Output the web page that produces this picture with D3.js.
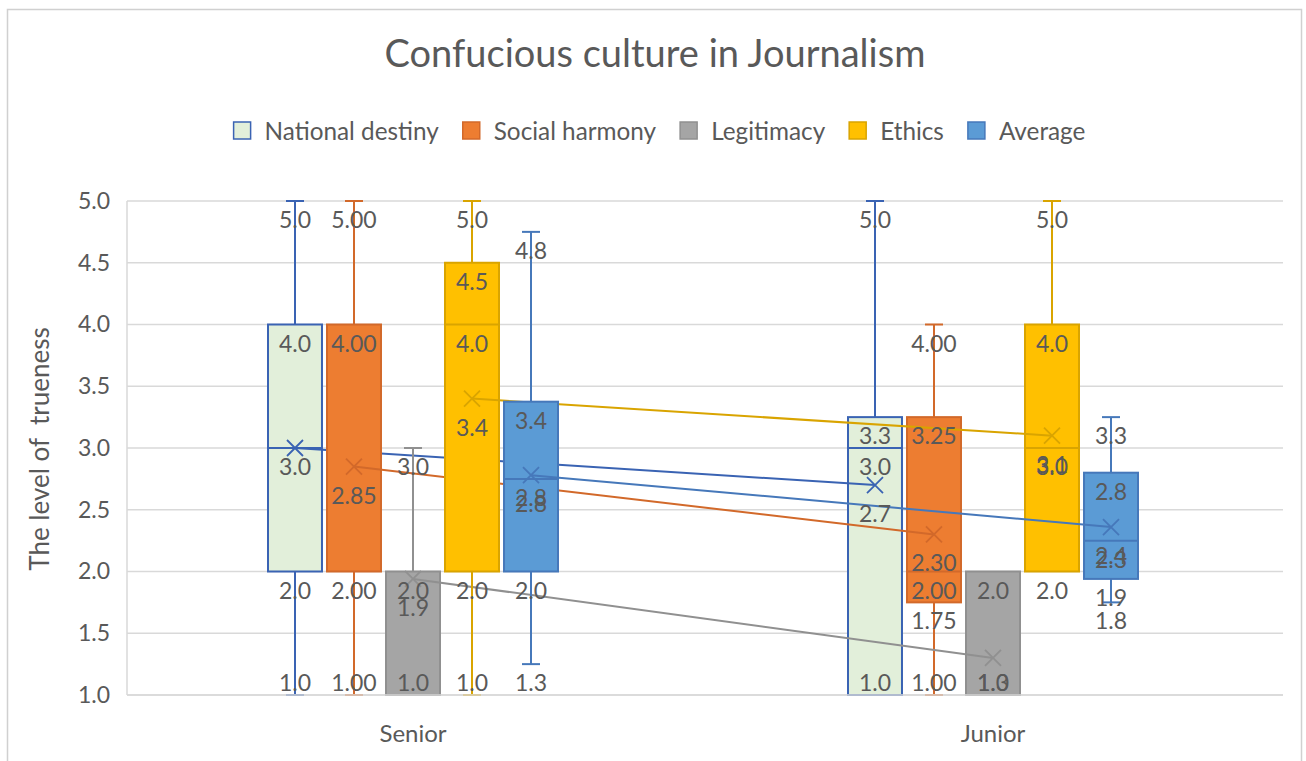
<!DOCTYPE html>
<html>
<head>
<meta charset="utf-8">
<script src="https://cdn.jsdelivr.net/npm/d3@7"></script>
<style>
  html, body { margin: 0; padding: 0; background: #fff; }
  svg { display: block; font-family: Lato, "Open Sans", sans-serif; }
</style>
</head>
<body>
<svg id="chart" width="1306" height="761"></svg>
<script>
// ---- data ----
const categories = ["Senior", "Junior"];
const seriesNames = ["National destiny", "Social harmony", "Legitimacy", "Ethics", "Average"];
const labelDecimals = [1, 2, 1, 1, 1];
// each row: [Senior, Junior]
const minValues    = [[1.0, 1.0], [1.0, 1.0],  [1.0, 1.0], [1.0, 2.0], [1.25, 1.75]];
const q1Values     = [[2.0, 1.0], [2.0, 1.75], [1.0, 1.0], [2.0, 2.0], [2.0, 1.94]];
const medianValues = [[3.0, 3.0], [4.0, 2.0],  [2.0, 1.0], [4.0, 3.0], [2.75, 2.25]];
const q3Values     = [[4.0, 3.25], [4.0, 3.25], [2.0, 2.0], [4.5, 4.0], [3.375, 2.8]];
const maxValues    = [[5.0, 5.0], [5.0, 4.0],  [3.0, 2.0], [5.0, 5.0], [4.75, 3.25]];
const meanValues   = [[3.0, 2.7], [2.85, 2.30], [1.94, 1.3], [3.4, 3.1], [2.78, 2.36]];
const yTicks = [1.0, 1.5, 2.0, 2.5, 3.0, 3.5, 4.0, 4.5, 5.0];

const chartTitle = "Confucious culture in Journalism";
const yAxisTitle = "The level of  trueness";

// ---- styling ----
const fills   = ["#E2EFDA", "#ED7D31", "#A5A5A5", "#FFC000", "#5B9BD5"];
const strokes = ["#3A63B3", "#D2692A", "#909090", "#D9A400", "#4678BA"];
const textColor = "#595959";
const gridColor = "#D9D9D9";

const svg = d3.select("#chart");
const plot = { left: 127, right: 1283, top: 201, bottom: 695 };

// outer chart frame
svg.append("rect")
  .attr("x", 7.5).attr("y", 9.5).attr("width", 1294).attr("height", 770)
  .attr("fill", "#fff").attr("stroke", "#D0D0D0").attr("stroke-width", 1.5);

// scales
const y = d3.scaleLinear().domain([1, 5]).range([plot.bottom, plot.top]);
const x0 = d3.scaleBand().domain(categories).range([plot.left - 4, plot.right])
  .paddingInner(0.5).paddingOuter(0.25);
const x1 = d3.scaleBand().domain(seriesNames).range([0, x0.bandwidth()])
  .paddingInner(0.085).paddingOuter(0);

// title
svg.append("text")
  .attr("x", 655).attr("y", 67).attr("text-anchor", "middle")
  .attr("font-size", 38).attr("fill", textColor).text(chartTitle);

// legend
const legend = svg.append("g");
let lx = 0;
seriesNames.forEach((name, i) => {
  const g = legend.append("g").attr("transform", `translate(${lx},0)`);
  g.append("rect").attr("x", 1).attr("y", 122).attr("width", 17).attr("height", 17)
    .attr("fill", fills[i]).attr("stroke", strokes[i]).attr("stroke-width", 1.5);
  const t = g.append("text").attr("x", 32).attr("y", 139.5)
    .attr("font-size", 24.3).attr("fill", textColor).text(name);
  lx += 32 + t.node().getComputedTextLength() + 23;
});
const legendWidth = lx - 23;
legend.attr("transform", `translate(${659 - legendWidth / 2},0)`);

// gridlines
svg.append("g").selectAll("line").data(yTicks).join("line")
  .attr("x1", plot.left).attr("x2", plot.right)
  .attr("y1", d => y(d)).attr("y2", d => y(d))
  .attr("stroke", gridColor).attr("stroke-width", 1.5);
svg.append("line")
  .attr("x1", plot.left).attr("x2", plot.left)
  .attr("y1", plot.top).attr("y2", plot.bottom)
  .attr("stroke", gridColor).attr("stroke-width", 1.5);

// y axis tick labels
const yAxis = d3.axisLeft(y).tickValues(yTicks).tickFormat(d3.format(".1f")).tickSize(0).tickPadding(17);
const yAxisG = svg.append("g").attr("transform", `translate(${plot.left},0)`).call(yAxis);
yAxisG.select(".domain").remove();
yAxisG.selectAll("text").attr("font-size", 23).attr("fill", textColor)
  .attr("font-family", "Lato, 'Open Sans', sans-serif");

// y axis title
svg.append("text")
  .attr("transform", "translate(49,449) rotate(-90)")
  .attr("text-anchor", "middle").attr("font-size", 26).attr("fill", textColor)
  .attr("xml:space", "preserve").style("white-space", "pre")
  .text(yAxisTitle);

// x axis category labels
const xAxis = d3.axisBottom(x0).tickSize(0).tickPadding(30);
const xAxisG = svg.append("g").attr("transform", `translate(0,${plot.bottom})`).call(xAxis);
xAxisG.select(".domain").remove();
xAxisG.selectAll("text").attr("font-size", 24).attr("fill", textColor)
  .attr("font-family", "Lato, 'Open Sans', sans-serif");

// boxes, whiskers, means
const marks = svg.append("g");
const labelItems = [];
const capHalf = 9;
const xHalf = 8;

seriesNames.forEach((name, s) => {
  const g = marks.append("g");
  const centers = categories.map(c => x0(c) + x1(name) + x1.bandwidth() / 2);

  categories.forEach((c, k) => {
    const cx = centers[k];
    const bx = x0(c) + x1(name);
    const bw = x1.bandwidth();
    const mn = minValues[s][k], q1 = q1Values[s][k], md = medianValues[s][k],
          q3 = q3Values[s][k], mx = maxValues[s][k];

    // whiskers
    if (mn < q1) {
      g.append("line").attr("x1", cx).attr("x2", cx).attr("y1", y(q1)).attr("y2", y(mn))
        .attr("stroke", strokes[s]).attr("stroke-width", 2);
      g.append("line").attr("x1", cx - capHalf).attr("x2", cx + capHalf).attr("y1", y(mn)).attr("y2", y(mn))
        .attr("stroke", strokes[s]).attr("stroke-width", 2);
    }
    if (mx > q3) {
      g.append("line").attr("x1", cx).attr("x2", cx).attr("y1", y(q3)).attr("y2", y(mx))
        .attr("stroke", strokes[s]).attr("stroke-width", 2);
      g.append("line").attr("x1", cx - capHalf).attr("x2", cx + capHalf).attr("y1", y(mx)).attr("y2", y(mx))
        .attr("stroke", strokes[s]).attr("stroke-width", 2);
    }
    // box
    g.append("rect").attr("x", bx).attr("y", y(q3)).attr("width", bw).attr("height", y(q1) - y(q3))
      .attr("fill", fills[s]).attr("stroke", strokes[s]).attr("stroke-width", 2);
    // median
    if (md > q1 && md < q3) {
      g.append("line").attr("x1", bx).attr("x2", bx + bw).attr("y1", y(md)).attr("y2", y(md))
        .attr("stroke", strokes[s]).attr("stroke-width", 2);
    }

    // data labels for this box
    const fmt = v => v.toFixed(labelDecimals[s]);
    const seen = new Set();
    [mn, q1, md, q3, mx].forEach(v => {
      if (seen.has(v)) return;
      seen.add(v);
      labelItems.push({ x: cx, y: Math.min(y(v) + 18, plot.bottom - 13), text: fmt(v) });
    });
    const mean = meanValues[s][k];
    if (!seen.has(mean)) {
      labelItems.push({ x: cx, y: Math.min(y(mean) + 28, plot.bottom - 13), text: fmt(mean) });
    }
  });

  // mean line across categories
  const line = d3.line().x((d, k) => centers[k]).y(d => y(d));
  g.append("path").attr("d", line(meanValues[s]))
    .attr("fill", "none").attr("stroke", strokes[s]).attr("stroke-width", 2);

  // mean markers
  meanValues[s].forEach((m, k) => {
    const cx = centers[k], cy = y(m);
    g.append("path")
      .attr("d", `M${cx - xHalf},${cy - xHalf}L${cx + xHalf},${cy + xHalf}M${cx - xHalf},${cy + xHalf}L${cx + xHalf},${cy - xHalf}`)
      .attr("stroke", strokes[s]).attr("stroke-width", 1.8).attr("fill", "none");
  });
});

// category axis line
svg.append("line")
  .attr("x1", plot.left).attr("x2", plot.right)
  .attr("y1", plot.bottom).attr("y2", plot.bottom)
  .attr("stroke", gridColor).attr("stroke-width", 1.5);

// data labels
svg.append("g").selectAll("text").data(labelItems).join("text")
  .attr("x", d => d.x).attr("y", d => d.y)
  .attr("text-anchor", "middle").attr("dominant-baseline", "central")
  .attr("font-size", 23).attr("fill", textColor)
  .text(d => d.text);
</script>
</body>
</html>
